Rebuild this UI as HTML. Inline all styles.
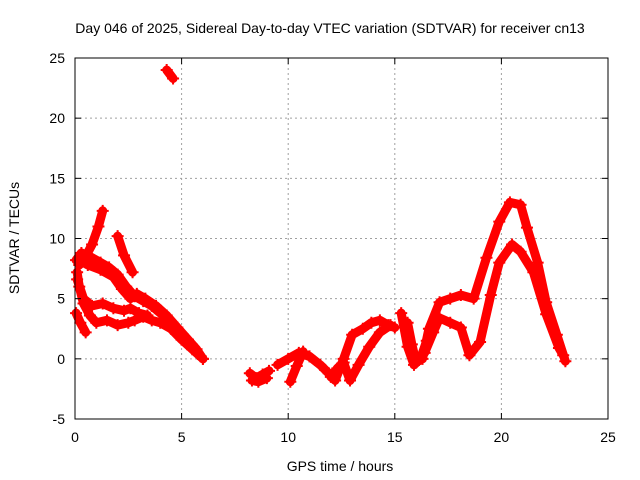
<!DOCTYPE html>
<html><head><meta charset="utf-8"><style>
html,body{margin:0;padding:0;background:#fff;}
svg{display:block;font-family:"Liberation Sans",sans-serif;}
</style></head><body>
<svg id="chart" width="640" height="480">
<text x="330" y="33" text-anchor="middle" font-size="14">Day 046 of 2025, Sidereal Day-to-day VTEC variation (SDTVAR) for receiver cn13</text>
<text x="340" y="471" text-anchor="middle" font-size="14">GPS time / hours</text>
<text x="19" y="238" text-anchor="middle" font-size="14" transform="rotate(-90 19 238)">SDTVAR / TECUs</text>
<g id="grid"></g><g id="marks"></g><g id="axes"></g>
</svg>
<script>
const xTicks=[0,5,10,15,20,25];
const yTicks=[-5,0,5,10,15,20,25];
const traceX=[
[0.2,0.5,0.8,1.1,1.3],
[0.05,0.3,0.7,1.2,1.6,2.0,2.4,2.8,3.2,3.6,4.0,4.4,4.8,5.2,5.6,5.9],
[0.1,0.2,0.4,0.7,1.0,1.5,2.0,2.5,2.8,3.2,3.6,4.0,4.5,5.0,5.5,6.0],
[0.1,0.4,0.8,1.3,1.8,2.3,2.6,3.0,3.4],
[0.2,0.6,1.2,1.8,2.2,2.6,2.9,3.3,3.8,4.3,4.8,5.3,5.7,6.0],
[0.05,0.25,0.5],
[2.0,2.3,2.7],
[4.3,4.6],
[8.2,8.5,8.8,9.1],
[8.3,8.6,9.0],
[9.5,10.0,10.5,11.0,11.5,11.9],
[10.1,10.4,10.7],
[12.0,12.3,12.6,12.9,13.3,13.8,14.3,14.8],
[12.2,12.6,13.0,13.5,13.9,14.3,14.7,15.0],
[15.3,15.6,15.9,16.2,16.5],
[15.6,15.8,16.0],
[16.3,16.6,17.1,17.6,18.1,18.7,19.3,19.9,20.4,20.9,21.2,21.7,22.1,22.6,23.0],
[16.4,16.8,17.1,17.6,18.1,18.5,19.0,19.5,19.9,20.5,20.9,21.5,22.1,22.7,22.9]
];
const traceY=[
[7.8,8.5,9.5,11.0,12.3],
[8.2,8.8,8.5,8.0,7.6,7.0,6.0,5.2,4.8,4.4,3.8,3.2,2.4,1.6,0.8,0.2],
[7.2,6.0,4.6,3.6,3.0,3.2,2.8,3.0,3.2,3.5,3.2,3.0,2.5,1.6,0.8,0.0],
[6.6,5.0,4.4,4.6,4.2,4.0,4.2,3.8,3.6],
[8.2,7.8,7.4,6.8,5.8,5.0,5.4,5.0,4.4,3.6,2.6,1.6,0.8,0.0],
[3.8,3.0,2.2],
[10.2,8.6,7.2],
[24.0,23.3],
[-1.2,-1.6,-1.3,-1.0],
[-1.8,-1.9,-1.6],
[-0.5,0.0,0.5,0.2,-0.5,-1.2],
[-1.9,-0.6,0.6],
[-1.5,-0.8,-0.3,-1.8,-0.5,1.0,2.2,2.8],
[-1.8,0.0,2.0,2.5,3.0,3.2,2.8,2.6],
[3.8,1.0,-0.5,0.0,1.5],
[3.0,1.2,-0.3],
[0.0,2.5,4.7,5.0,5.3,5.0,8.4,11.4,13.0,12.8,10.9,8.0,4.7,2.0,-0.2],
[0.5,2.2,3.4,3.0,2.6,0.3,1.4,5.3,8.0,9.5,8.9,7.2,3.7,0.9,0.3]
];
const X0=75,X1=608,Y0=419,Y1=58;
const xs=v=>X0+(v-0)/(25-0)*(X1-X0);
const ys=v=>Y0-(v+5)/(30)*(Y0-Y1);
const NS="http://www.w3.org/2000/svg";
function mk(t,a,p){const e=document.createElementNS(NS,t);for(const k in a)e.setAttribute(k,a[k]);p.appendChild(e);return e;}
const grid=document.getElementById('grid'),axes=document.getElementById('axes'),marks=document.getElementById('marks');
xTicks.forEach(v=>{
  const x=xs(v);
  if(v>0&&v<25){const g=mk('line',{x1:x,x2:x,y1:Y1,y2:Y0,stroke:'#a0a0a0','stroke-dasharray':'2,3'},grid);
  
  }
  mk('line',{x1:x,x2:x,y1:Y0,y2:Y0-6,stroke:'#000'},axes);
  mk('line',{x1:x,x2:x,y1:Y1,y2:Y1+6,stroke:'#000'},axes);
  const t=mk('text',{x:x,y:Y0+23,'text-anchor':'middle','font-size':'14'},axes);t.textContent=v;
  
  
});
yTicks.forEach(v=>{
  const y=ys(v);
  if(v>-5&&v<25){const g=mk('line',{x1:X0,x2:X1,y1:y,y2:y,stroke:'#a0a0a0','stroke-dasharray':'2,3'},grid);
  
  }
  mk('line',{x1:X0,x2:X0+6,y1:y,y2:y,stroke:'#000'},axes);
  mk('line',{x1:X1,x2:X1-6,y1:y,y2:y,stroke:'#000'},axes);
  const t=mk('text',{x:X0-10,y:y+5,'text-anchor':'end','font-size':'14'},axes);t.textContent=v;
  
  
});
const fr=mk('rect',{x:X0,y:Y1,width:X1-X0,height:Y0-Y1,fill:'none',stroke:'#000'},axes);


traceX.forEach((tx,i)=>{
  const ty=traceY[i];
  const g=mk('g',{},marks);
  
  
  const pts=tx.map((x,j)=>xs(x)+','+ys(ty[j])).join(' ');
  mk('polyline',{points:pts,fill:'none',stroke:'#f00','stroke-width':'9','stroke-linejoin':'round','stroke-linecap':'round'},g);
  tx.forEach((x,j)=>{
    const px=xs(x),py=ys(ty[j]);
    const p=mk('path',{d:`M${px-6},${py}h12M${px},${py-6}v12`,stroke:'#f00','stroke-width':'2'},g);
    
    
  });
});
</script>
</body></html>
